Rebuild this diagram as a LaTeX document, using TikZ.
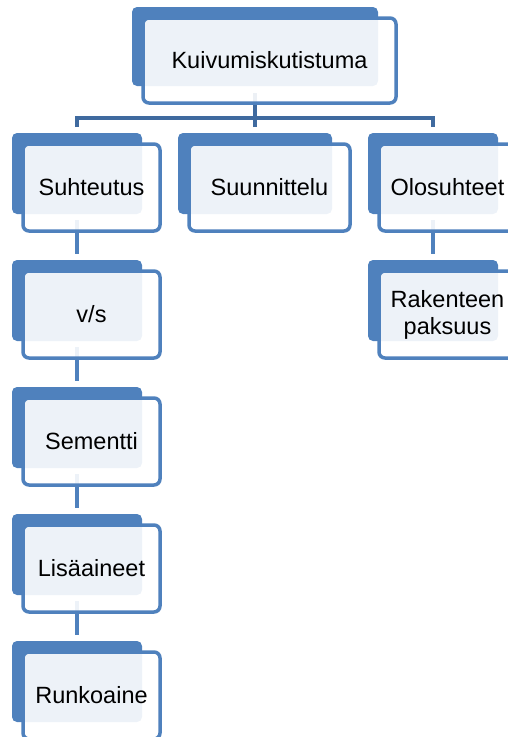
\documentclass[tikz,border=0pt]{standalone}
\usepackage{fontspec}
\setmainfont{Liberation Sans}
\definecolor{acc}{HTML}{4F81BD}
\definecolor{treeline}{HTML}{3F6A9F}
\pgfdeclarelayer{bg}
\pgfsetlayers{bg,main}
\tikzset{
  backbox/.style={draw=none, fill=acc, rounded corners=5pt, inner sep=0pt, outer sep=0pt},
  frontbox/.style={draw=acc, line width=3.5pt, fill=white, fill opacity=0.9, text opacity=1,
    rounded corners=6pt, inner sep=0pt, outer sep=0pt, align=center,
    font=\fontsize{23.5}{27}\selectfont},
  tree/.style={draw=treeline, line width=3.5pt},
  chain/.style={draw=acc, line width=3.5pt},
}
\newcommand\smnode[6]{%
  \node[backbox, minimum width=#4pt, minimum height=#5pt] (#1B) at ({#2+#4/2},{#3+#5/2}) {};
  \node[frontbox, minimum width={#4pt+7pt}, minimum height={#5pt+6pt}] (#1F)
    at ({#2+#4/2+14.5},{#3+#5/2+14}) {#6};
}
\begin{document}
\begin{tikzpicture}[x=1pt,y=-1pt]
\useasboundingbox (0,0) rectangle (508,737);
\clip (0,0) rectangle (508,737);
\smnode{k}{132}{7}{246}{79}{Kuivumiskutistuma}
\smnode{s}{12}{133}{130}{81}{Suhteutus}
\smnode{u}{178}{133}{154}{81}{Suunnittelu}
\smnode{o}{368}{133}{130}{81}{Olosuhteet}
\smnode{v}{12}{260}{130}{81}{v/s}
\smnode{se}{12}{387}{130}{81}{Sementti}
\smnode{l}{12}{514}{130}{81}{Lisäaineet}
\smnode{r}{12}{641}{130}{81}{Runkoaine}
\smnode{rp}{368}{260}{130}{81}{Rakenteen\\paksuus}
\coordinate (bus) at (255,118);
\begin{pgfonlayer}{bg}
  \draw[tree] ([yshift=-7pt]kB.south) -- (kB.south |- bus);
  \draw[tree] ([yshift=6pt]sB.north) -- (sB.north |- bus) -- (oB.north |- bus) -- ([yshift=6pt]oB.north);
  \draw[tree] ([yshift=6pt]uB.north) -- (uB.north |- bus);
  \draw[chain] ([yshift=-6pt]sB.south) -- ([yshift=6pt]vB.north);
  \draw[chain] ([yshift=-6pt]vB.south) -- ([yshift=6pt]seB.north);
  \draw[chain] ([yshift=-6pt]seB.south) -- ([yshift=6pt]lB.north);
  \draw[chain] ([yshift=-6pt]lB.south) -- ([yshift=6pt]rB.north);
  \draw[chain] ([yshift=-6pt]oB.south) -- ([yshift=6pt]rpB.north);
\end{pgfonlayer}
\end{tikzpicture}
\end{document}
